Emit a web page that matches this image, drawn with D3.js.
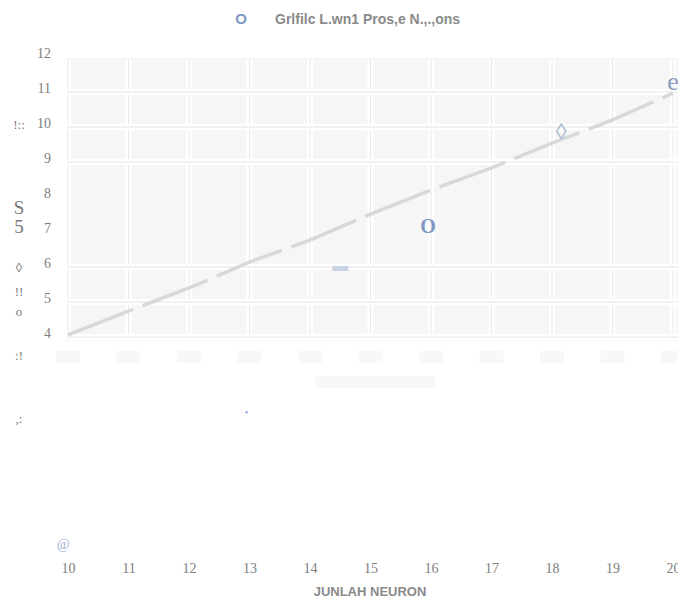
<!DOCTYPE html>
<html>
<head>
<meta charset="utf-8">
<script src="https://cdn.jsdelivr.net/npm/d3@7"></script>
<style>
  body { margin: 0; background: #fff; }
  svg { display: block; }
</style>
</head>
<body>
<svg id="chart" width="678" height="598"></svg>
<script>
// chart values
const neurons = [10, 11, 12, 13, 14, 15, 16, 17, 18, 19, 20]
const hasil = [4.06, 4.74, 5.4, 6.14, 6.77, 7.51, 8.2, 8.83, 9.54, 10.2, 10.97]
const yTicks = [4, 5, 6, 7, 8, 9, 10, 11, 12]
const gridY = [4, 5, 6, 9, 10, 11]
const titleText = 'Grlfilc L.wn1 Pros,e N.,.,ons'
const xTitle = 'JUNLAH NEURON'
// stray glyphs seen on the picture, in data units
const glyphX = [20, 15.95, 18.15, 14.5, 12.95, 9.92]
const glyphY = [11.22, 7.1, 9.8, 6.0, 1.8, -1.97]
const glyphs = ['e', 'O', '\u25CA', '\u25AC', '\u2022', '@']

const svg = d3.select('#chart')
const x = d3.scaleLinear().domain([10, 20]).range([68, 673])
const y = d3.scaleLinear().domain([4, 12]).range([337, 57])

// plot background
svg.append('rect')
  .attr('x', 66).attr('y', 58).attr('width', 612).attr('height', 283)
  .attr('fill', '#f6f6f6')

// grid
const grid = svg.append('g')
neurons.forEach(function (n) {
  grid.append('line').attr('x1', x(n)).attr('x2', x(n)).attr('y1', 60).attr('y2', 340)
    .attr('stroke', '#fff').attr('stroke-width', 6)
  grid.append('line').attr('x1', x(n)).attr('x2', x(n)).attr('y1', 60).attr('y2', 340)
    .attr('stroke', '#e8e8e8').attr('stroke-width', 1)
})
gridY.forEach(function (v) {
  grid.append('line').attr('x1', 68).attr('x2', 678).attr('y1', y(v)).attr('y2', y(v))
    .attr('stroke', '#fff').attr('stroke-width', 6)
  grid.append('line').attr('x1', 68).attr('x2', 678).attr('y1', y(v)).attr('y2', y(v))
    .attr('stroke', '#e4e4e4').attr('stroke-width', 1)
})

// faint label placeholders under the plot
svg.append('g').selectAll('rect').data(neurons).join('rect')
  .attr('x', d => x(d) - 12).attr('y', 351).attr('width', 24).attr('height', 12)
  .attr('fill', '#f8f8f8')
svg.append('rect').attr('x', 315).attr('y', 376).attr('width', 120).attr('height', 12)
  .attr('fill', '#f8f8f8')

// the line
const line = d3.line().x((d, i) => x(neurons[i])).y(d => y(d))
svg.append('path').datum(hasil)
  .attr('d', line)
  .attr('fill', 'none')
  .attr('stroke', '#d8d8d8')
  .attr('stroke-width', 3.5)
  .attr('stroke-dasharray', '70,10')

// glyphs
svg.append('g').selectAll('text').data(glyphs).join('text')
  .attr('x', (d, i) => x(glyphX[i]))
  .attr('y', (d, i) => y(glyphY[i]))
  .attr('text-anchor', 'middle')
  .attr('dominant-baseline', 'middle')
  .attr('font-family', 'Liberation Serif, serif')
  .attr('font-weight', (d, i) => i === 1 ? 'bold' : 'normal')
  .attr('font-size', (d, i) => [26, 20, 22, 16, 10, 14][i])
  .attr('fill', (d, i) => ['#8a9cc0', '#7f97c0', '#a9b8d4', '#c9d3e4', '#8fa3c6', '#9fb1d2'][i])
  .text(d => d)

// x axis
const xAxis = svg.append('g')
  .attr('transform', 'translate(0,562)')
  .call(d3.axisBottom(x).tickValues(neurons).tickSize(0).tickPadding(0).tickFormat(d3.format('d')))
xAxis.select('.domain').remove()
xAxis.selectAll('text')
  .attr('font-family', 'Liberation Serif, serif')
  .attr('font-size', 14)
  .attr('fill', '#7d7d7d')
  .attr('dy', '0.75em')

// y axis
const yAxis = svg.append('g')
  .attr('transform', 'translate(51,-4)')
  .call(d3.axisLeft(y).tickValues(yTicks).tickSize(0).tickPadding(0).tickFormat(d3.format('d')))
yAxis.select('.domain').remove()
yAxis.selectAll('text')
  .attr('font-family', 'Liberation Serif, serif')
  .attr('font-size', 14)
  .attr('fill', '#7d7d7d')

// garbled y title
const yTitleBits = ['!::', 'S', '5', '\u25CA', '!!', 'o', ':!', ',:']
const yTitleY = [129, 214, 233, 272, 296, 316, 360, 423]
svg.append('g').selectAll('text').data(yTitleBits).join('text')
  .attr('x', 19).attr('y', (d, i) => yTitleY[i])
  .attr('text-anchor', 'middle')
  .attr('font-family', 'Liberation Serif, serif')
  .attr('font-size', (d, i) => (i === 1 || i === 2) ? 19 : 13)
  .attr('fill', '#777')
  .text(d => d)

// title
svg.append('text')
  .attr('x', 241).attr('y', 24)
  .attr('text-anchor', 'middle')
  .attr('font-family', 'Liberation Sans, Arial, sans-serif')
  .attr('font-weight', 'bold').attr('font-size', 15)
  .attr('fill', '#7c99c7')
  .text('O')
svg.append('text')
  .attr('x', 275).attr('y', 24)
  .attr('text-anchor', 'start')
  .attr('font-family', 'Liberation Sans, Arial, sans-serif')
  .attr('font-weight', 'bold').attr('font-size', 14)
  .attr('fill', '#8a8a8a')
  .text(titleText)

// x title
svg.append('text')
  .attr('x', 370).attr('y', 596)
  .attr('text-anchor', 'middle')
  .attr('font-family', 'Liberation Sans, Arial, sans-serif')
  .attr('font-weight', 'bold').attr('font-size', 13)
  .attr('fill', '#8a8a8a')
  .text(xTitle)
</script>
</body>
</html>
